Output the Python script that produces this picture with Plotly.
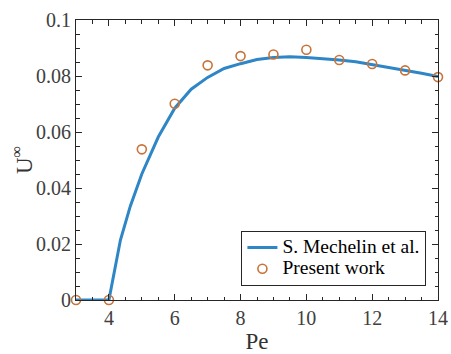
import plotly.graph_objects as go

# Reference curve (S. Mechelin et al.)
pe_ref = [3, 4, 4.35, 4.65, 5, 5.5, 6, 6.5, 7, 7.5, 8, 8.5, 9, 9.5, 10, 10.5, 11, 11.5, 12, 12.5, 13, 13.5, 14]
u_ref = [0, 0, 0.0214, 0.0335, 0.0450, 0.0582, 0.0685, 0.0753, 0.0795, 0.0827, 0.0844, 0.0859, 0.0866, 0.0869,
         0.0866, 0.0862, 0.0857, 0.0851, 0.0841, 0.0832, 0.0821, 0.0810, 0.0798]

# Present work
pe_pw = [3, 4, 5, 6, 7, 8, 9, 10, 11, 12, 13, 14]
u_pw = [0, 0, 0.0538, 0.0701, 0.0838, 0.0871, 0.0877, 0.0894, 0.0857, 0.0843, 0.0820, 0.0796]

x_ticks = [4, 6, 8, 10, 12, 14]
y_ticks = [0, 0.02, 0.04, 0.06, 0.08, 0.1]
y_ticktext = ["0", "0.02", "0.04", "0.06", "0.08", "0.1"]

FONT = "Liberation Serif, serif"
LINE_BLUE = "#2f86c6"
MARK_ORANGE = "#c8733a"
AX = "#262626"
TITLE_COLOR = "#333333"


def legend_label(text):
    # larger glyphs while keeping the compact legend row height
    return f"<span style='font-size:19.5px'>{text}</span>"


fig = go.Figure()
fig.add_trace(go.Scatter(
    x=pe_ref, y=u_ref, mode="lines", name=legend_label("S. Mechelin et al."),
    line=dict(color=LINE_BLUE, width=3),
))
fig.add_trace(go.Scatter(
    x=pe_pw, y=u_pw, mode="markers", name=legend_label("Present work"),
    marker=dict(symbol="circle-open", size=9, color=MARK_ORANGE, line=dict(width=1.6, color=MARK_ORANGE)),
    cliponaxis=False,
))
# invisible trace that anchors the top/right tick axes
fig.add_trace(go.Scatter(x=[3], y=[0], xaxis="x2", yaxis="y2", mode="markers",
                         marker=dict(opacity=0), showlegend=False, hoverinfo="skip"))

minor_x = dict(dtick=0.5, ticks="inside", ticklen=3.5, tickcolor=AX, showgrid=False)
minor_y = dict(dtick=0.005, ticks="inside", ticklen=3.5, tickcolor=AX, showgrid=False)

axis_common = dict(
    showline=True, linecolor=AX, linewidth=1,
    ticks="inside", ticklen=6, tickwidth=1, tickcolor=AX,
    showgrid=False, zeroline=False, automargin=False,
    tickfont=dict(family=FONT, size=20, color="#404040"),
)

fig.update_layout(
    xaxis=dict(
        range=[3, 14], tickvals=x_ticks, minor=minor_x,
        title=dict(text="Pe", font=dict(family=FONT, size=23, color=TITLE_COLOR), standoff=6),
        **axis_common,
    ),
    yaxis=dict(
        range=[0, 0.1], tickvals=y_ticks, ticktext=y_ticktext, minor=minor_y,
        **axis_common,
    ),
    xaxis2=dict(
        range=[3, 14], tickvals=x_ticks, minor=minor_x, overlaying="x", side="top",
        anchor="y2", showticklabels=False, **axis_common,
    ),
    yaxis2=dict(
        range=[0, 0.1], tickvals=y_ticks, minor=minor_y, overlaying="y", side="right",
        anchor="x2", showticklabels=False, **axis_common,
    ),
)

# y-axis title, placed left of the tick labels
fig.add_annotation(
    text="U<sup>∞</sup>", textangle=-90, showarrow=False,
    xref="paper", yref="paper", x=0, y=0.5, xanchor="center", yanchor="middle", xshift=-54,
    font=dict(family=FONT, size=23, color=TITLE_COLOR),
)

fig.update_layout(
    width=451, height=354,
    margin=dict(l=76, r=13, t=20, b=54),
    paper_bgcolor="white", plot_bgcolor="white",
    font=dict(family=FONT),
    legend=dict(
        x=0.968, y=0.05, xanchor="right", yanchor="bottom",
        bgcolor="white", bordercolor=AX, borderwidth=1,
        font=dict(family=FONT, size=14, color="black"),
        tracegroupgap=0, itemwidth=30,
    ),
)

fig.write_html("out.html")
